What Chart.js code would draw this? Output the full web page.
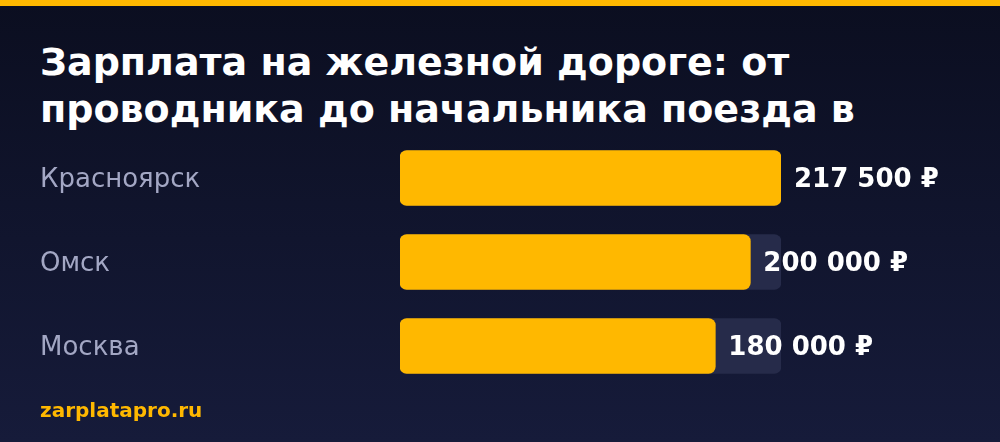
<!DOCTYPE html>
<html lang="ru">
<head>
<meta charset="utf-8">
<title>Зарплата на железной дороге</title>
<script src="https://cdn.jsdelivr.net/npm/chart.js@4/dist/chart.umd.min.js"></script>
<style>
  html, body { margin: 0; padding: 0; }
  body {
    width: 1000px; height: 442px; overflow: hidden; position: relative;
    background: linear-gradient(180deg, #0b0e20 0%, #161b3a 100%);
    font-family: "DejaVu Sans", sans-serif;
  }
  .stripe { position: absolute; left: 0; top: 0; width: 1000px; height: 6px; background: #ffb800; }
  .title {
    position: absolute; left: 40px; top: 39px; width: 920px;
    color: #ffffff; font-weight: bold; font-size: 38px; line-height: 47px;
    height: 94px; overflow: hidden;
  }
  .footer {
    position: absolute; left: 40px; top: 400px;
    color: #ffb800; font-weight: bold; font-size: 20px; line-height: 20px;
  }
  #chart { position: absolute; left: 0; top: 0; }
</style>
</head>
<body>
<div class="stripe"></div>
<div class="title">Зарплата на железной дороге: от<br>проводника до начальника поезда в</div>
<canvas id="chart" width="1000" height="442"></canvas>
<div class="footer">zarplatapro.ru</div>
<script>
// --- данные ---
const cities = ["Красноярск", "Омск", "Москва"];
const salaries = [217500, 200000, 180000];
const maxSalary = 217500;

const BAR_COLOR = "#ffb800";
const TRACK_COLOR = "#262b4a";

// подписи значений справа от полосы
const valueLabels = {
    id: "valueLabels",
    afterDatasetsDraw(chart) {
        const ctx = chart.ctx;
        const meta = chart.getDatasetMeta(1);
        ctx.save();
        ctx.font = "bold 26px 'DejaVu Sans'";
        ctx.fillStyle = "#ffffff";
        ctx.textAlign = "left";
        ctx.textBaseline = "middle";
        meta.data.forEach((bar, i) => {
            const v = chart.data.datasets[1].data[i];
            const txt = String(v).replace(/\B(?=(\d{3})+(?!\d))/g, " ") + " ₽";
            ctx.fillText(txt, bar.x + 13, bar.y + 2);
        });
        ctx.restore();
    }
};

new Chart(document.getElementById("chart"), {
    type: "bar",
    data: {
        labels: cities,
        datasets: [
            {
                // фон-дорожка
                data: cities.map(() => maxSalary),
                backgroundColor: TRACK_COLOR,
                borderRadius: 7,
                borderSkipped: false,
                barThickness: 55,
                grouped: false,
                order: 2
            },
            {
                data: salaries,
                backgroundColor: BAR_COLOR,
                borderRadius: 7,
                borderSkipped: false,
                barThickness: 55,
                grouped: false,
                order: 1
            }
        ]
    },
    options: {
        indexAxis: "y",
        responsive: false,
        animation: false,
        layout: { padding: { top: 136, bottom: 54, left: 40, right: 219 } },
        plugins: {
            legend: { display: false },
            tooltip: { enabled: false }
        },
        scales: {
            x: { display: false, min: 0, max: maxSalary },
            y: {
                grid: { display: false },
                border: { display: false },
                afterFit(scale) { scale.width = 360; },
                ticks: {
                    crossAlign: "far",
                    labelOffset: 2,
                    color: "#a3a7c4",
                    font: { family: "DejaVu Sans", size: 26 }
                }
            }
        }
    },
    plugins: [valueLabels]
});
</script>
</body>
</html>
